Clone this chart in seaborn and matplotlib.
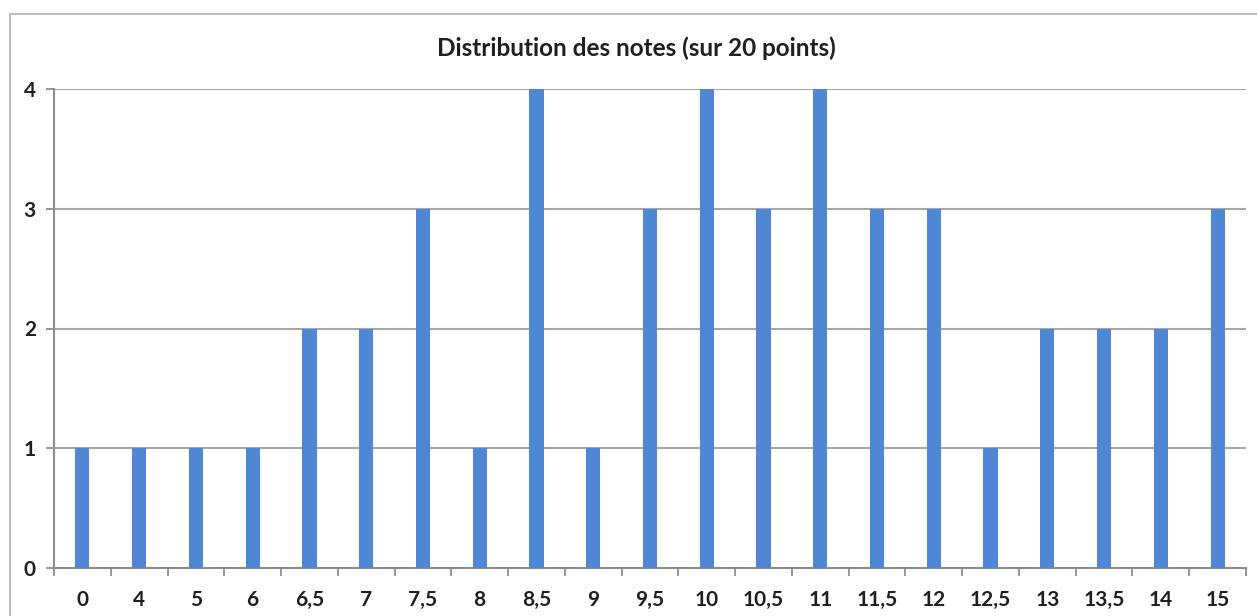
import matplotlib
matplotlib.use("Agg")
import matplotlib.pyplot as plt
import matplotlib.lines as mlines
import pandas as pd
import seaborn as sns

# Notes (categories) and number of students per note
notes = ["0", "4", "5", "6", "6,5", "7", "7,5", "8", "8,5", "9", "9,5",
         "10", "10,5", "11", "11,5", "12", "12,5", "13", "13,5", "14", "15"]
counts = [1, 1, 1, 1, 2, 2, 3, 1, 4, 1, 3, 4, 3, 4, 3, 3, 1, 2, 2, 2, 3]

df = pd.DataFrame({"Note": notes, "Effectif": counts})

sns.set_style("white")
plt.rcParams["font.family"] = ["Lato", "DejaVu Sans"]

fig = plt.figure(figsize=(12.57, 6.16), dpi=100)
ax = fig.add_axes([54 / 1257, 48 / 616, (1246 - 54) / 1257, (568 - 89) / 616])

sns.barplot(data=df, x="Note", y="Effectif", order=notes, color="#4F87D4",
            saturation=1, width=0.25, linewidth=0, ax=ax, zorder=3)

ax.set_xlim(-0.5, len(notes) - 0.5)
ax.set_ylim(0, 4)
ax.set_yticks([0, 1, 2, 3, 4])
ax.yaxis.grid(True, color="#A6A6A6", linewidth=1.5, zorder=0)
ax.set_axisbelow(True)

# Excel-like tick marks between categories
ax.set_xticks(range(len(notes)))
ax.set_xticklabels(notes)
ax.set_xticks([i - 0.5 for i in range(len(notes) + 1)], minor=True)
ax.tick_params(axis="x", which="major", bottom=True, length=0, pad=16)
ax.tick_params(axis="x", which="minor", bottom=True, length=6, width=1.3,
               color="#8C8C8C")
ax.tick_params(axis="y", left=True, length=6, width=1.3, color="#8C8C8C", pad=7)

for lab in ax.get_xticklabels() + ax.get_yticklabels():
    lab.set_fontweight("bold")
    lab.set_fontsize(15)
    lab.set_color("#1F1F1F")

for side in ["top", "right"]:
    ax.spines[side].set_visible(False)
for side in ["left", "bottom"]:
    ax.spines[side].set_color("#8C8C8C")
    ax.spines[side].set_linewidth(1.5)

ax.set_xlabel("")
ax.set_ylabel("")
fig.text(636 / 1257, 1 - 48 / 616, "Distribution des notes (sur 20 points)",
         ha="center", va="center", fontsize=17.5, fontweight="bold", color="#1F1F1F")

# chart area border (top and left visible)
fig.add_artist(mlines.Line2D([9.5 / 1257, 1], [1 - 13.5 / 616] * 2,
                             color="#BFBFBF", linewidth=1.5, transform=fig.transFigure))
fig.add_artist(mlines.Line2D([9.5 / 1257] * 2, [0, 1 - 13.5 / 616],
                             color="#BFBFBF", linewidth=1.5, transform=fig.transFigure))

fig.savefig("out.png", dpi=100)
